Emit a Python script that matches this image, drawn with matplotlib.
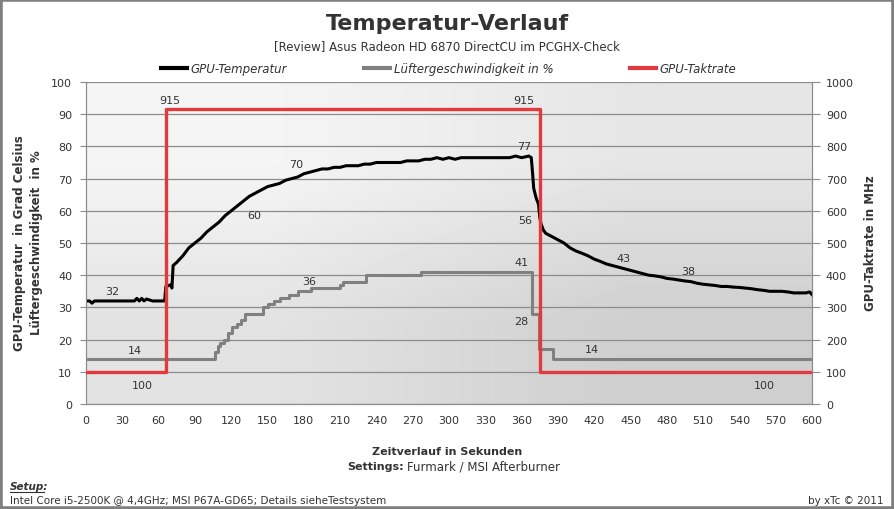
import matplotlib
matplotlib.use("Agg")
import matplotlib.pyplot as plt
from matplotlib.lines import Line2D
from matplotlib.patches import Rectangle
import numpy as np

# --- data ---
temp_t = [0, 3, 5, 7, 12, 20, 30, 40, 42, 44, 46, 48, 50, 55, 60, 65,
          66, 70, 71, 72, 75, 80, 85, 90, 95, 100, 105, 110, 115, 120,
          125, 130, 135, 140, 145, 150, 155, 160, 165, 170, 175, 180,
          185, 190, 195, 200, 205, 210, 215, 220, 225, 230, 235, 240,
          245, 250, 255, 260, 265, 270, 275, 280, 285, 290, 295, 300,
          305, 310, 315, 320, 325, 330, 335, 340, 345, 350, 355, 360,
          366, 368, 369, 370, 372, 374, 375, 376, 378, 380, 385, 390,
          395, 400, 405, 410, 415, 420, 425, 430, 435, 440, 445, 450,
          455, 460, 465, 470, 475, 480, 485, 490, 495, 500, 505, 510,
          515, 520, 525, 530, 535, 540, 545, 550, 555, 560, 565, 570,
          575, 580, 585, 590, 595, 598, 600]
temp_v = [32, 32, 31.3, 32, 32, 32, 32, 32, 32.8, 32, 32.8, 32, 32.6, 32, 32, 32,
          36.5, 37, 36, 43, 44, 46, 48.5, 50, 51.5, 53.5, 55, 56.5, 58.5, 60,
          61.5, 63, 64.5, 65.5, 66.5, 67.5, 68, 68.5, 69.5, 70, 70.5, 71.5,
          72, 72.5, 73, 73, 73.5, 73.5, 74, 74, 74, 74.5, 74.5, 75,
          75, 75, 75, 75, 75.5, 75.5, 75.5, 76, 76, 76.5, 76, 76.5,
          76, 76.5, 76.5, 76.5, 76.5, 76.5, 76.5, 76.5, 76.5, 76.5, 77, 76.5,
          77, 76.5, 72, 67, 64, 62, 58, 56, 54, 53, 52, 51,
          50, 48.5, 47.5, 46.8, 46, 45, 44.3, 43.5, 43, 42.5, 42, 41.5,
          41, 40.5, 40, 39.8, 39.5, 39, 38.8, 38.5, 38.2, 38, 37.5, 37.2,
          37, 36.8, 36.5, 36.5, 36.3, 36.2, 36, 35.8, 35.5, 35.3, 35, 35,
          35, 34.8, 34.5, 34.5, 34.5, 34.8, 34]

fan_t = [0, 105, 107, 109, 111, 114, 117, 121, 125, 128, 131, 146, 150,
         155, 160, 168, 175, 186, 210, 212, 231, 277, 369, 374, 386, 600]
fan_v = [14, 14, 16, 18, 19, 20, 22, 24, 25, 26, 28, 30, 31,
         32, 33, 34, 35, 36, 37, 38, 40, 41, 28, 17, 14, 14]

clock_t = [0, 66, 375, 600]
clock_v = [100, 915, 100, 100]

# value labels (text, x, y on the left axis scale)
label_txt = ["915", "915", "32", "14", "100", "60", "70", "36", "77",
             "56", "41", "28", "14", "43", "38", "100"]
label_x = [69, 362, 21.6, 40.7, 46.5, 139.4, 173.4, 184.2, 361.8,
           362.7, 360.2, 359.3, 418.3, 444, 497.9, 561]
label_y = [94.3, 94.3, 35.2, 16.7, 5.9, 58.7, 74.5, 38.3, 80,
           57.2, 44.2, 25.7, 17, 45.4, 41.4, 5.9]

x_ticks = list(range(0, 601, 30))

BLACK = "#000000"
GRAY = "#808080"
RED = "#e03a3e"
GRID = "#8c8c8c"
TXT = "#333333"

plt.rcParams.update({
    "font.family": "DejaVu Sans",
    "font.size": 8,
    "text.color": TXT,
})
NARROW = ["Liberation Sans Narrow", "DejaVu Sans"]

fig = plt.figure(figsize=(8.94, 5.10), dpi=100)
ax = fig.add_axes([86 / 894, 1 - 405 / 510, (812 - 86) / 894, (405 - 83) / 510])
ax2 = ax.twinx()

# gradient background of the plot area
grad = np.array([[0.96, 0.90], [0.89, 0.81]])
ax.imshow(grad, cmap="gray", vmin=0, vmax=1, interpolation="bilinear",
          extent=[0, 1, 0, 1], transform=ax.transAxes, aspect="auto", zorder=0)
ax.set_facecolor("none")

ax.set_xlim(0, 600)
ax.set_ylim(0, 100)
ax2.set_ylim(0, 1000)
ax.set_xticks(x_ticks)
ax.set_yticks(range(0, 101, 10))
ax2.set_yticks(range(0, 1001, 100))
ax.grid(axis="y", color=GRID, linewidth=0.9, zorder=1)
ax.set_axisbelow(True)

ax.plot(temp_t, temp_v, color=BLACK, linewidth=2.2, zorder=4)
ax.plot(fan_t, fan_v, color=GRAY, linewidth=2.2, drawstyle="steps-post", zorder=3)
ax2.plot(clock_t, clock_v, color=RED, linewidth=2.4, drawstyle="steps-post", zorder=5)

for s, xv, yv in zip(label_txt, label_x, label_y):
    ax.text(xv, yv, s, ha="center", va="center", fontsize=8, color=TXT, zorder=6)

for a in (ax, ax2):
    a.spines["top"].set_visible(False)
    for side in ("left", "right", "bottom"):
        a.spines[side].set_color(GRID)
ax.tick_params(axis="y", direction="out", length=4, color=GRID, labelsize=8,
               labelcolor=TXT, pad=6)
ax2.tick_params(axis="y", direction="out", length=6, color=GRID, labelsize=8,
                labelcolor=TXT, pad=4)
ax.tick_params(axis="x", length=0, labelsize=8, labelcolor=TXT, pad=8)
ax2.set_zorder(ax.get_zorder() + 1)
ax2.patch.set_visible(False)

# titles
fig.text(0.5, 1 - 24 / 510, "Temperatur-Verlauf", ha="center", va="center",
         fontsize=16, fontweight="bold", color=TXT)
fig.text(0.5, 1 - 47 / 510, "[Review] Asus Radeon HD 6870 DirectCU im PCGHX-Check",
         ha="center", va="center", fontsize=8.5, color=TXT, family=NARROW)

handles = [Line2D([], [], color=BLACK, linewidth=3),
           Line2D([], [], color=GRAY, linewidth=3),
           Line2D([], [], color=RED, linewidth=3)]
leg = fig.legend(handles, ["GPU-Temperatur", "Lüftergeschwindigkeit in %", "GPU-Taktrate"],
                 loc="center", bbox_to_anchor=(0.502, 1 - 70 / 510), ncol=3,
                 frameon=False, handlelength=2.2, handletextpad=0.3,
                 columnspacing=6.5, prop={"style": "italic", "size": 8.5})
for t in leg.get_texts():
    t.set_color(TXT)

# axis titles
fig.text(20 / 894, 1 - 243 / 510, "GPU-Temperatur  in Grad Celsius", rotation=90,
         ha="center", va="center", fontsize=8.5, fontweight="bold", color=TXT)
fig.text(37 / 894, 1 - 243 / 510, "Lüftergeschwindigkeit  in %", rotation=90,
         ha="center", va="center", fontsize=8.5, fontweight="bold", color=TXT)
fig.text(870 / 894, 1 - 243 / 510, "GPU-Taktrate in MHz", rotation=90,
         ha="center", va="center", fontsize=8.5, fontweight="bold", color=TXT)
fig.text(0.5, 1 - 452 / 510, "Zeitverlauf in Sekunden", ha="center", va="center",
         fontsize=8, fontweight="bold", color=TXT)
fig.text(404 / 894, 1 - 467 / 510, "Settings:", ha="right", va="center",
         fontsize=8, fontweight="bold", color=TXT)
fig.text(407 / 894, 1 - 467 / 510, "Furmark / MSI Afterburner", ha="left",
         va="center", fontsize=8.5, color=TXT, family=NARROW)

# footer
fig.text(10 / 894, 1 - 487 / 510, "Setup:", ha="left", va="center", fontsize=7.5,
         fontweight="bold", style="italic", color=TXT)
fig.add_artist(Line2D([10 / 894, 44 / 894], [1 - 493 / 510, 1 - 493 / 510],
                      color=TXT, linewidth=0.8))
fig.text(10 / 894, 1 - 501 / 510,
         "Intel Core i5-2500K @ 4,4GHz; MSI P67A-GD65; Details sieheTestsystem",
         ha="left", va="center", fontsize=7.5, color=TXT, family=NARROW)
fig.text(884 / 894, 1 - 501 / 510, "by xTc © 2011", ha="right", va="center",
         fontsize=7.5, color=TXT, family=NARROW)

fig.add_artist(Rectangle((0, 0), 1, 1, transform=fig.transFigure, fill=False,
                         edgecolor="#7f7f7f", linewidth=4))

fig.savefig("out.png", dpi=100)
